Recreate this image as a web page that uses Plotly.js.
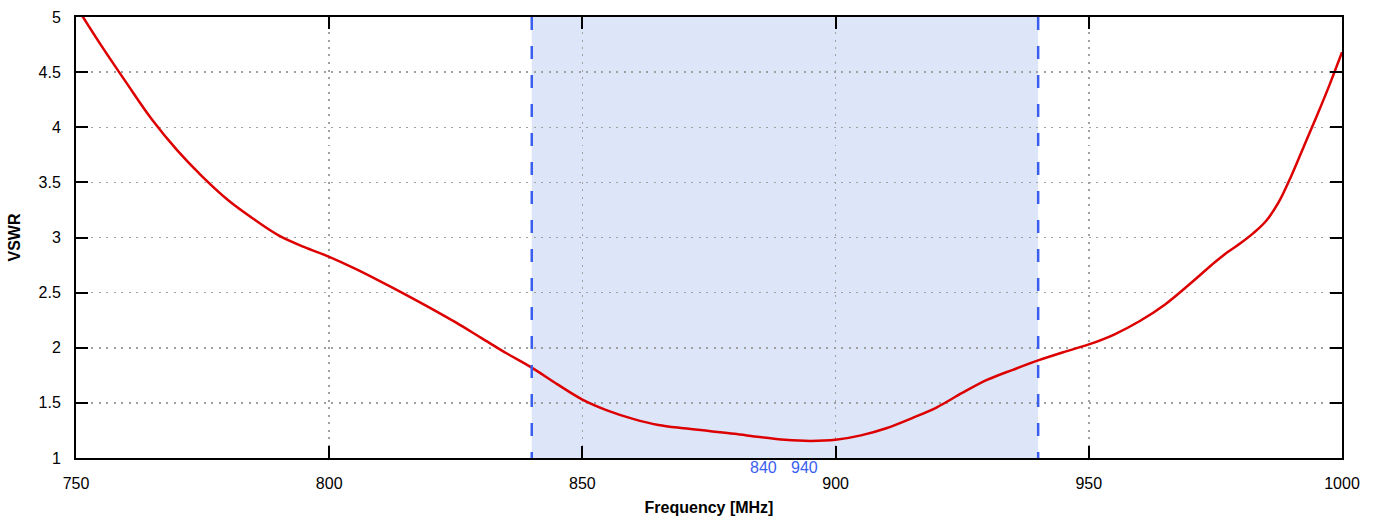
<!DOCTYPE html>
<html>
<head>
<meta charset="utf-8">
<script src="https://cdn.plot.ly/plotly-3.0.1.min.js"></script>
<style>html,body{margin:0;padding:0;background:#fff;}#chart{width:1378px;height:521px;}</style>
</head>
<body>
<div id="chart"></div>
<script>
const freq = [750, 755, 760, 765, 770, 775, 780, 785, 790, 795, 800, 805, 810, 815, 820, 825, 830, 835, 840, 845, 850, 855, 860, 865, 870, 875, 880, 885, 890, 895, 900, 905, 910, 915, 920, 925, 930, 935, 940, 945, 950, 955, 960, 965, 970, 975, 977.5, 980, 982.5, 985, 987.5, 990, 992.5, 995, 997.5, 1000];
const vswr = [5.1, 4.74, 4.40, 4.07, 3.79, 3.55, 3.34, 3.17, 3.02, 2.915, 2.825, 2.72, 2.605, 2.485, 2.36, 2.23, 2.09, 1.95, 1.82, 1.67, 1.53, 1.43, 1.355, 1.30, 1.27, 1.245, 1.22, 1.19, 1.165, 1.155, 1.165, 1.205, 1.27, 1.36, 1.46, 1.59, 1.71, 1.80, 1.885, 1.96, 2.03, 2.12, 2.24, 2.39, 2.58, 2.78, 2.87, 2.95, 3.04, 3.15, 3.32, 3.56, 3.83, 4.10, 4.38, 4.68];
const bandStart = 840;
const bandEnd = 940;
const bandLabels = ["840", "940"];
const xTicks = [750, 800, 850, 900, 950, 1000];
const yTicks = [1, 1.5, 2, 2.5, 3, 3.5, 4, 4.5, 5];

const blue = '#3a5ef0';
const fam = 'Liberation Sans, Arial, sans-serif';
const font = {family: fam, size: 16, color: '#000'};

const data = [{
  x: freq, y: vswr, type: 'scatter', mode: 'lines',
  line: {color: '#dd0000', width: 2.5, shape: 'spline', smoothing: 1},
  hoverinfo: 'skip', showlegend: false, cliponaxis: true
}];

const axisCommon = {
  showline: true, linecolor: '#000', linewidth: 2, mirror: 'ticks',
  ticks: 'inside', ticklen: 12, tickcolor: '#000', tickwidth: 2,
  showgrid: true, gridcolor: '#a0a0a0', griddash: '2px,5.5px', gridwidth: 1.5,
  zeroline: false, tickfont: font, automargin: false
};

const layout = {
  width: 1378, height: 521,
  margin: {l: 76, r: 36, t: 17, b: 63, pad: 0},
  paper_bgcolor: '#fff', plot_bgcolor: '#fff',
  font: font,
  xaxis: Object.assign({}, axisCommon, {
    range: [750, 1000], tickvals: xTicks, ticktext: xTicks.map(String),
    ticklabelstandoff: 10,
    title: {text: '<b>Frequency [MHz]</b>', font: font, standoff: 11}
  }),
  yaxis: Object.assign({}, axisCommon, {
    range: [1, 5], tickvals: yTicks, ticktext: yTicks.map(String),
    ticklabelstandoff: 10,
    title: {text: '<b>VSWR</b>', font: font, standoff: 14}
  }),
  shapes: [
    {type: 'rect', xref: 'x', yref: 'y', x0: bandStart, x1: bandEnd, y0: 1, y1: 5,
     fillcolor: '#dde6f8', line: {width: 0}, layer: 'below'},
    {type: 'line', xref: 'x', yref: 'y', x0: bandStart, x1: bandStart, y0: 5, y1: 1,
     line: {color: blue, width: 2.5, dash: '13px,16px'}, layer: 'above'},
    {type: 'line', xref: 'x', yref: 'y', x0: bandEnd, x1: bandEnd, y0: 5, y1: 1,
     line: {color: blue, width: 2.5, dash: '13px,16px'}, layer: 'above'}
  ],
  annotations: [
    {text: bandLabels[0], xref: 'paper', yref: 'paper', x: 0.5434, y: -0.0215, xanchor: 'center', yanchor: 'middle',
     showarrow: false, font: {family: fam, size: 16, color: blue}},
    {text: bandLabels[1], xref: 'paper', yref: 'paper', x: 0.5754, y: -0.0215, xanchor: 'center', yanchor: 'middle',
     showarrow: false, font: {family: fam, size: 16, color: blue}}
  ]
};

Plotly.newPlot('chart', data, layout, {staticPlot: true, displayModeBar: false});
</script>
</body>
</html>
